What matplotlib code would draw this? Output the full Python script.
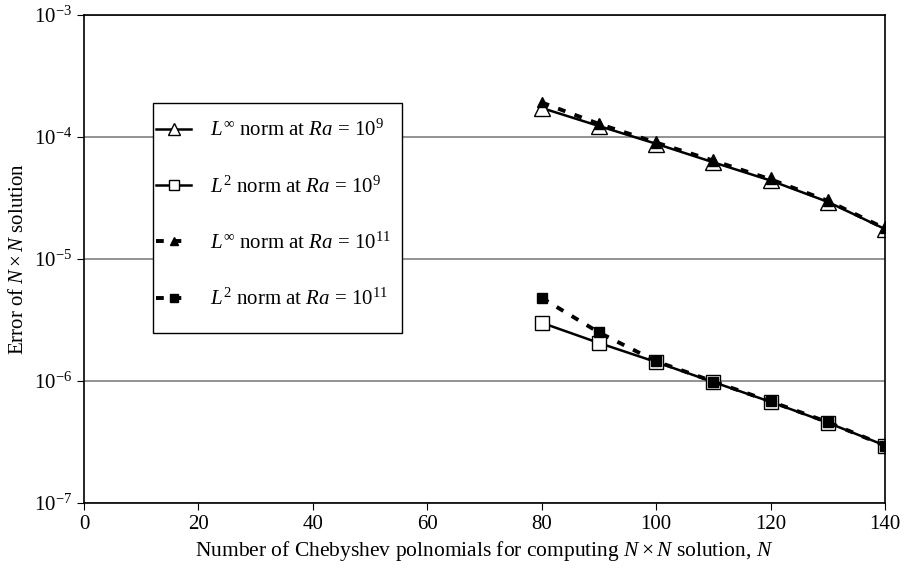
import numpy as np
import matplotlib.pyplot as plt
from matplotlib.patches import Rectangle

plt.rcParams['font.family'] = ['Liberation Serif']
plt.rcParams['mathtext.fontset'] = 'custom'
plt.rcParams['mathtext.rm'] = 'Liberation Serif'
plt.rcParams['mathtext.it'] = 'Liberation Serif:italic'

N = [80, 90, 100, 110, 120, 130, 140]
linf_ra9 = [1.73e-4, 1.23e-4, 8.8e-5, 6.2e-5, 4.4e-5, 2.94e-5, 1.76e-5]
l2_ra9 = [3.0e-6, 2.05e-6, 1.43e-6, 9.8e-7, 6.75e-7, 4.55e-7, 2.96e-7]
linf_ra11 = [1.92e-4, 1.28e-4, 9.0e-5, 6.4e-5, 4.5e-5, 3.0e-5, 1.78e-5]
l2_ra11 = [4.8e-6, 2.5e-6, 1.45e-6, 9.9e-7, 6.8e-7, 4.6e-7, 2.95e-7]

fig = plt.figure(figsize=(9.05, 5.71), dpi=100)
ax = fig.add_axes([84/905, 68/571, 801/905, 488/571])

ax.plot(N, linf_ra9, '-', color='black', lw=1.8, marker='^', ms=11,
        mfc='white', mec='black', mew=1.0, label=r'$L^{\infty}$ norm at $Ra$ = 10$^{9}$')
ax.plot(N, l2_ra9, '-', color='black', lw=1.8, marker='s', ms=10,
        mfc='white', mec='black', mew=1.0, label=r'$L^{2}$ norm at $Ra$ = 10$^{9}$')
ax.plot(N, linf_ra11, color='black', lw=2.8, ls=(0, (2, 2.5)), marker='^', ms=7,
        mfc='black', mec='black', label=r'$L^{\infty}$ norm at $Ra$ = 10$^{11}$')
ax.plot(N, l2_ra11, color='black', lw=2.8, ls=(0, (2, 2.5)), marker='s', ms=7,
        mfc='black', mec='black', label=r'$L^{2}$ norm at $Ra$ = 10$^{11}$')

ax.set_yscale('log')
ax.set_ylim(1e-7, 1e-3)
ax.set_xlim(0, 140)
ax.set_xticks(np.arange(0, 141, 20))
ax.minorticks_off()
ax.yaxis.grid(True, color='#808080', lw=1.2)
ax.set_axisbelow(True)
ax.tick_params(direction='out', length=5, labelsize=15, color='black')
for s in ax.spines.values():
    s.set_linewidth(1.2)

ax.set_xlabel(r'Number of Chebyshev polnomials for computing $N\times N$ solution, $N$', fontsize=15.5)
ax.set_ylabel(r'Error of $N\times N$ solution', fontsize=15)

# legend frame drawn by hand so the handles can sit close to the left edge
box = Rectangle((69/801, 1 - 318/488), 249/801, 230/488, transform=ax.transAxes,
                facecolor='white', edgecolor='black', lw=1.0, zorder=1.5)
ax.add_patch(box)
leg = ax.legend(loc='upper left', bbox_to_anchor=(72/801, 1 - 105/488), borderaxespad=0,
                fontsize=15, frameon=False, handlelength=1.7, labelspacing=1.68,
                borderpad=0, handletextpad=0.9, markerscale=0.75)

fig.savefig('out.png', dpi=100)
